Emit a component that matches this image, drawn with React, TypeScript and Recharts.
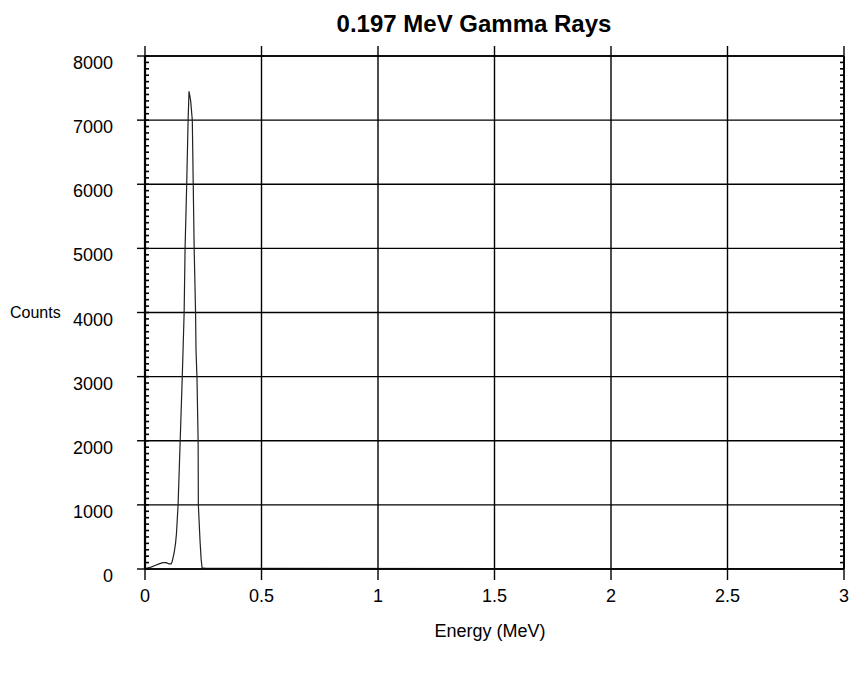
import { LineChart, Line, XAxis, YAxis, CartesianGrid } from 'recharts'

// spectrum (MeV, counts)
const energy = [
  0, 0.009, 0.026, 0.043, 0.06, 0.077, 0.09, 0.103, 0.112, 0.116, 0.12, 0.125,
  0.131, 0.135, 0.142, 0.151, 0.16, 0.168, 0.172, 0.179, 0.185, 0.189, 0.196,
  0.203, 0.207, 0.211, 0.217, 0.219, 0.223, 0.228, 0.229, 0.236, 0.241, 0.245,
  0.26, 3,
]
const counts = [
  5, 15, 30, 55, 80, 100, 100, 80, 80, 110, 170, 250,
  400, 550, 1000, 2000, 3000, 4000, 5000, 6000, 7000, 7450, 7300,
  7000, 6000, 5000, 4000, 3400, 3000, 2000, 1000, 450, 150, 20,
  10, 0,
]

const xTicks = [0, 0.5, 1, 1.5, 2, 2.5, 3]
const yTicks = [0, 1000, 2000, 3000, 4000, 5000, 6000, 7000, 8000]
const yMinorTicks = Array.from({ length: 81 }, (_, i) => i * 100)

const data = energy.map((e, i) => ({ energy: e, counts: counts[i] }))

const font = '"Liberation Sans", Arial, sans-serif'

const YTick = (props: any) => {
  const { x, y, payload } = props
  return (
    <text x={x} y={y + 7} textAnchor="end" dominantBaseline="central" fontSize={18} fill="#000" fontFamily={font}>
      {payload.value}
    </text>
  )
}

const XTick = (props: any) => {
  const { x, y, payload } = props
  return (
    <text x={x} y={y} textAnchor="middle" dominantBaseline="central" fontSize={18} fill="#000" fontFamily={font}>
      {payload.value}
    </text>
  )
}

// tick lines only, no labels
const NoLabel = () => <g />

export default function App() {
  const line = { stroke: '#000', strokeWidth: 1.4 }
  const minor = { stroke: '#000', strokeWidth: 1.6 }
  return (
    <div style={{ position: 'absolute', left: 0, top: 0, width: 849, height: 677, background: '#fff', fontFamily: font }}>
      <div style={{ position: 'absolute', left: 274, width: 400, top: 10, textAlign: 'center', fontSize: 24, fontWeight: 700, lineHeight: '28px' }}>
        0.197 MeV Gamma Rays
      </div>
      <div style={{ position: 'absolute', left: 10, top: 304, fontSize: 16 }}>Counts</div>
      <div style={{ position: 'absolute', left: 290, width: 400, top: 621, textAlign: 'center', fontSize: 18 }}>
        Energy (MeV)
      </div>
      <LineChart width={849} height={677} data={data} margin={{ top: 55, right: 5, bottom: 68, left: 86 }}>
        <CartesianGrid stroke="#000" strokeWidth={1.4} fill="none" />
        <XAxis
          dataKey="energy"
          type="number"
          domain={[0, 3]}
          ticks={xTicks}
          interval={0}
          allowDataOverflow
          height={40}
          tickSize={11}
          tickMargin={16}
          tickLine={line}
          axisLine={line}
          tick={<XTick />}
        />
        <XAxis
          xAxisId="top"
          orientation="top"
          dataKey="energy"
          type="number"
          domain={[0, 3]}
          ticks={xTicks}
          interval={0}
          allowDataOverflow
          height={1}
          tickSize={10}
          tick={<NoLabel />}
          tickLine={line}
          axisLine={line}
        />
        <YAxis
          type="number"
          domain={[0, 8000]}
          ticks={yTicks}
          interval={0}
          allowDataOverflow
          width={59}
          tickSize={8}
          tickMargin={24}
          tickLine={line}
          axisLine={{ stroke: '#000', strokeWidth: 2.2 }}
          tick={<YTick />}
        />
        <YAxis
          yAxisId="minorL"
          orientation="left"
          mirror
          type="number"
          domain={[0, 8000]}
          ticks={yMinorTicks}
          interval={0}
          allowDataOverflow
          width={1}
          tickSize={4}
          tick={<NoLabel />}
          tickLine={minor}
          axisLine={false}
        />
        <YAxis
          yAxisId="right"
          orientation="right"
          mirror
          type="number"
          domain={[0, 8000]}
          ticks={yMinorTicks}
          interval={0}
          allowDataOverflow
          width={1}
          tickSize={4}
          tick={<NoLabel />}
          tickLine={minor}
          axisLine={{ stroke: '#000', strokeWidth: 1.8 }}
        />
        <Line
          dataKey="counts"
          type="linear"
          stroke="#222"
          strokeWidth={1.2}
          dot={false}
          isAnimationActive={false}
        />
        <Line yAxisId="minorL" dataKey="counts" stroke="none" dot={false} legendType="none" isAnimationActive={false} />
        <Line xAxisId="top" yAxisId="right" dataKey="counts" stroke="none" dot={false} legendType="none" isAnimationActive={false} />
      </LineChart>
    </div>
  )
}
